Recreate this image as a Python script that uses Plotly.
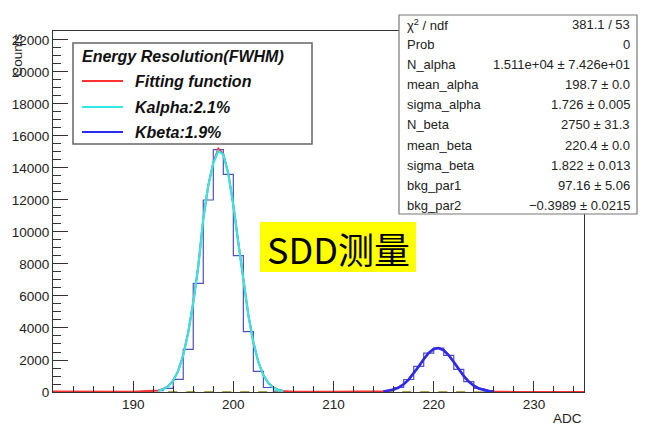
import plotly.graph_objects as go

# ---------------- data ----------------
bin_start = 182
counts = [22, 20, 24, 19, 21, 18, 23, 20, 25, 40,
          90, 230, 790, 2670, 6790, 12000, 15150, 13600, 8520, 3770,
          1290, 280, 60, 25, 14, 12, 15, 11, 13, 12,
          10, 14, 20, 80, 280, 780, 1600, 2430, 2750, 2290,
          1420, 650, 220, 60, 12, 6, 5, 4, 5, 3,
          4, 3, 2]

alpha_x = [192.5, 193.0, 193.5, 194.0, 194.5, 195.0, 195.5, 196.0, 196.5, 197.0,
           197.5, 198.0, 198.5, 199.0, 199.5, 200.0, 200.5, 201.0, 201.5, 202.0,
           202.5, 203.0, 203.5, 204.0, 204.5, 205.0]
alpha_y = [72, 165, 355, 708, 1320, 2295, 3715, 5590, 7850, 10800,
           12900, 14300, 15050, 14840, 13630, 11670, 9310, 6915, 4790, 3090,
           1855, 1040, 540, 263, 119, 51]

beta_x = [215.0, 215.5, 216.0, 216.5, 217.0, 217.5, 218.0, 218.5, 219.0, 219.5,
          220.0, 220.5, 221.0, 221.5, 222.0, 222.5, 223.0, 223.5, 224.0, 224.5,
          225.0, 225.5, 226.0]
beta_y = [34, 74, 149, 279, 482, 775, 1155, 1597, 2047, 2434,
          2685, 2746, 2605, 2292, 1870, 1415, 994, 647, 390, 219,
          114, 55, 25]

total_x = ([182, 186, 190] + alpha_x + [206, 210, 214.5] + beta_x + [228, 232, 235])
total_y = ([25, 23, 21]
           + [90, 183, 373, 726, 1338, 2313, 3733, 5608, 7868, 10818,
              12918, 14318, 15200, 14858, 13648, 11688, 9327, 6932, 4807, 3107,
              1872, 1057, 557, 280, 136, 68]
           + [15, 13, 12]
           + [44, 84, 159, 289, 492, 785, 1165, 1607, 2057, 2444,
              2695, 2756, 2615, 2302, 1880, 1425, 1004, 657, 400, 229,
              124, 65, 35]
           + [6, 5, 3])

bkg_x = [193.5, 235]
bkg_y = [20, 3]

legend_title = "Energy Resolution(FWHM)"
legend_labels = ["Fitting function", "Kalpha:2.1%", "Kbeta:1.9%"]
legend_colors = ["#ff3030", "#30e8e8", "#2a2af0"]

stats_labels = ["χ<sup>2</sup> / ndf", "Prob", "N_alpha", "mean_alpha", "sigma_alpha",
                "N_beta", "mean_beta", "sigma_beta", "bkg_par1", "bkg_par2"]
stats_values = ["381.1 / 53", "0", "1.511e+04 ± 7.426e+01", "198.7 ± 0.0", "1.726 ± 0.005",
                "2750 ± 31.3", "220.4 ± 0.0", "1.822 ± 0.013", "97.16 ± 5.06", "−0.3989 ± 0.0215"]

# ---------------- geometry helpers ----------------
L, R, T, B = 53, 584, 31, 392
W, H = R - L, B - T


def fx(p):
    return (p - L) / W


def fy(p):
    return (B - p) / H


edges = list(range(bin_start, bin_start + len(counts) + 1))
hist_y = counts + [counts[-1]]

fig = go.Figure()
fig.add_trace(go.Scatter(x=edges, y=hist_y, mode="lines", line=dict(shape="hv", color="#5050c0", width=1.2),
                         showlegend=False, hoverinfo="skip"))
fig.add_trace(go.Scatter(x=bkg_x, y=bkg_y, mode="lines", line=dict(color="#a8a040", width=1.5, dash="dash"),
                         showlegend=False))
fig.add_trace(go.Scatter(x=total_x, y=total_y, mode="lines", line=dict(color=legend_colors[0], width=2),
                         name=legend_labels[0], showlegend=False))
fig.add_trace(go.Scatter(x=alpha_x, y=alpha_y, mode="lines", line=dict(color=legend_colors[1], width=2.2),
                         name=legend_labels[1], showlegend=False))
fig.add_trace(go.Scatter(x=beta_x, y=beta_y, mode="lines", line=dict(color=legend_colors[2], width=2.6),
                         name=legend_labels[2], showlegend=False))

axis_font = dict(family="Liberation Sans, Arial, sans-serif", size=13.5, color="#222")
fig.update_xaxes(range=[182, 235], dtick=10, tick0=180, ticks="inside", ticklen=11, tickcolor="#333",
                 showline=True, linecolor="#333", linewidth=1, mirror=True, showgrid=False, zeroline=False,
                 tickfont=axis_font,
                 minor=dict(dtick=2, tick0=180, ticks="inside", ticklen=6, tickcolor="#333", showgrid=False))
fig.update_yaxes(range=[0, 22560], dtick=2000, tick0=0, ticks="inside", ticklen=15, tickcolor="#333",
                 tickformat="d", showline=True, linecolor="#333", linewidth=1, mirror=True, showgrid=False,
                 zeroline=False, tickfont=axis_font,
                 minor=dict(dtick=500, tick0=0, ticks="inside", ticklen=8, tickcolor="#333", showgrid=False))

shapes = []
annotations = []

# axis titles
annotations.append(dict(text="Counts", xref="paper", yref="paper", x=fx(17), y=fy(32), xanchor="center",
                        yanchor="top", textangle=-90, showarrow=False,
                        font=dict(family="Liberation Sans, Arial, sans-serif", size=13.5, color="#222")))
annotations.append(dict(text="ADC", xref="paper", yref="paper", x=fx(584), y=fy(418), xanchor="right",
                        yanchor="middle", showarrow=False,
                        font=dict(family="Liberation Sans, Arial, sans-serif", size=13.5, color="#222")))

# legend box
shapes.append(dict(type="rect", xref="paper", yref="paper", x0=fx(73), x1=fx(312), y0=fy(144), y1=fy(43),
                   line=dict(color="#666", width=1.5), fillcolor="white", layer="above"))
leg_font = dict(family="Liberation Sans, Arial, sans-serif", size=16, color="#111", weight="bold", style="italic")
annotations.append(dict(text=legend_title, xref="paper", yref="paper", x=fx(80), y=fy(57), xanchor="left",
                        yanchor="middle", showarrow=False, font=leg_font))
row_y = [81, 107, 132]
for lab, col, ry in zip(legend_labels, legend_colors, row_y):
    shapes.append(dict(type="line", xref="paper", yref="paper", x0=fx(82), x1=fx(123), y0=fy(ry), y1=fy(ry),
                       line=dict(color=col, width=2), layer="above"))
    annotations.append(dict(text=lab, xref="paper", yref="paper", x=fx(133), y=fy(ry), xanchor="left",
                            yanchor="middle", showarrow=False, font=leg_font))

# stats box
shapes.append(dict(type="rect", xref="paper", yref="paper", x0=fx(399), x1=fx(637), y0=fy(214), y1=fy(15),
                   line=dict(color="#777", width=1.2), fillcolor="white", layer="above"))
st_font = dict(family="Liberation Sans, Arial, sans-serif", size=13, color="#222")
for i, (lab, val) in enumerate(zip(stats_labels, stats_values)):
    yy = 24.5 + i * 20.1
    annotations.append(dict(text=lab, xref="paper", yref="paper", x=fx(405), y=fy(yy), xanchor="left",
                            yanchor="middle", showarrow=False, font=st_font))
    annotations.append(dict(text=val, xref="paper", yref="paper", x=fx(632), y=fy(yy), xanchor="right",
                            yanchor="middle", showarrow=False, font=st_font))

# yellow label
shapes.append(dict(type="rect", xref="paper", yref="paper", x0=fx(260), x1=fx(416), y0=fy(272), y1=fy(222),
                   line=dict(width=0), fillcolor="#ffff00", layer="above"))
annotations.append(dict(text="SDD测量", xref="paper", yref="paper", x=fx(338), y=fy(248), xanchor="center",
                        yanchor="middle", showarrow=False,
                        font=dict(family="Noto Sans CJK SC, sans-serif", size=36, color="#000")))

fig.update_layout(width=648, height=433, margin=dict(l=L, r=648 - R, t=T, b=433 - B),
                  paper_bgcolor="white", plot_bgcolor="white", shapes=shapes, annotations=annotations,
                  showlegend=False)

fig.write_html("out.html")
